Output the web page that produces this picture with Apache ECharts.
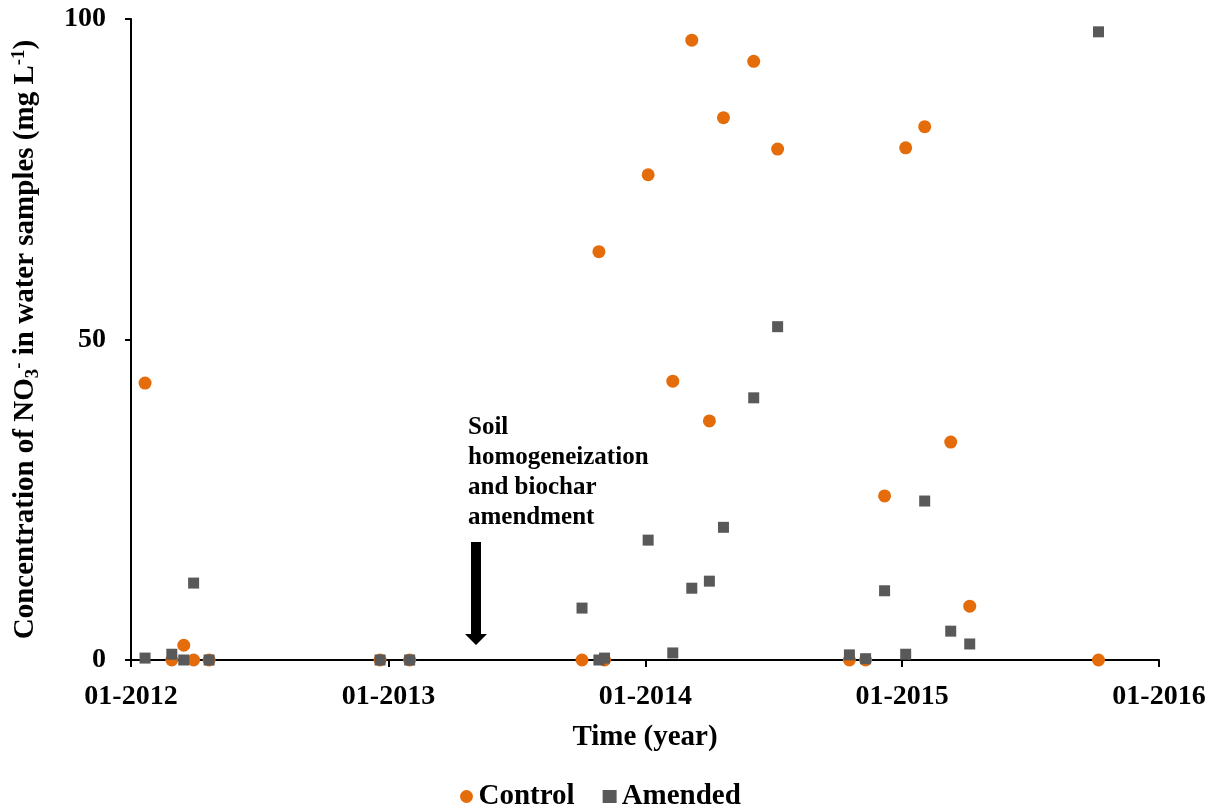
<!DOCTYPE html>
<html>
<head>
<meta charset="utf-8">
<script src="https://cdn.jsdelivr.net/npm/echarts@6/dist/echarts.min.js"></script>
<style>
html,body{margin:0;padding:0;background:#fff;}
#main{width:1220px;height:811px;}
</style>
</head>
<body>
<div id="main"></div>
<script>
var sampleDates = ['2012-01-21','2012-02-28','2012-03-16','2012-03-30','2012-04-21','2012-12-20','2013-01-31',
  '2013-10-03','2013-10-27','2013-11-04','2014-01-05','2014-02-09','2014-03-08','2014-04-02','2014-04-22',
  '2014-06-04','2014-07-08','2014-10-18','2014-11-10','2014-12-07','2015-01-06','2015-02-02','2015-03-11',
  '2015-04-07','2015-10-07'];
var controlValues = [43.2,0,2.3,0,0,0,0,0,63.7,0,75.7,43.5,96.7,37.3,84.6,93.4,79.7,0,0,25.6,79.9,83.2,34.0,8.4,0];
var amendedValues = [0.3,0.9,0,12.0,0,0,0,8.1,0,0.3,18.7,1.1,11.2,12.3,20.7,40.9,52.0,0.8,0.2,10.8,0.9,24.8,4.5,2.5,98.0];
var yTicks = [0, 50, 100];
var seriesNames = ['Control', 'Amended'];
var annotationText = 'Soil\nhomogeneization\nand biochar\namendment';

var FONT = '"Liberation Serif", "Times New Roman", serif';
function pairs(vals){ return sampleDates.map(function(d,i){ return [d, vals[i]]; }); }

var chart = echarts.init(document.getElementById('main'));
var DAY = 24*3600*1000;
chart.setOption({
  animation: false,
  backgroundColor: '#fff',
  grid: { left: 131, right: 61, top: 19, bottom: 151, containLabel: false },
  legend: {
    top: 777, left: 455,
    itemGap: 28, itemWidth: 14, itemHeight: 13,
    textStyle: { fontFamily: FONT, fontWeight: 'bold', fontSize: 29, color: '#000' },
    data: [
      { name: seriesNames[0], icon: 'circle', itemStyle: { color: '#E46C0A' } },
      { name: seriesNames[1], icon: 'rect', itemStyle: { color: '#595959' } }
    ]
  },
  xAxis: {
    type: 'time',
    min: '2012-01-01', max: '2016-01-01',
    minInterval: 365*DAY, maxInterval: 366*DAY,
    name: 'Time (year)', nameLocation: 'middle', nameGap: 63,
    nameTextStyle: { fontFamily: FONT, fontWeight: 'bold', fontSize: 29, color: '#000' },
    axisLine: { lineStyle: { color: '#000', width: 2 } },
    axisTick: { show: true, length: 7, lineStyle: { color: '#000', width: 2 } },
    minorTick: { show: false },
    splitLine: { show: false },
    axisLabel: {
      margin: 23, color: '#000', fontFamily: FONT, fontWeight: 'bold', fontSize: 28,
      formatter: '{MM}-{yyyy}', showMinLabel: true, showMaxLabel: true
    }
  },
  yAxis: {
    type: 'value', min: 0, max: 100, interval: 50,
    name: '{b|Concentration of NO}{sub|3}{sup|-}{b| in water samples (mg L}{sup|-1}{b|)}',
    nameLocation: 'middle', nameRotate: 90, nameGap: 88,
    nameTextStyle: {
      fontFamily: FONT, fontWeight: 'bold', fontSize: 29, color: '#000',
      rich: {
        b: { fontFamily: FONT, fontWeight: 'bold', fontSize: 29, color: '#000', lineHeight: 34 },
        sub: { fontFamily: FONT, fontWeight: 'bold', fontSize: 19, color: '#000', lineHeight: 34, padding: [14, 0, 0, 0] },
        sup: { fontFamily: FONT, fontWeight: 'bold', fontSize: 19, color: '#000', lineHeight: 34, padding: [0, 0, 14, 0] }
      }
    },
    axisLine: { show: true, lineStyle: { color: '#000', width: 2 } },
    axisTick: { show: true, length: 6, lineStyle: { color: '#000', width: 2 } },
    splitLine: { show: false },
    axisLabel: { margin: 25, color: '#000', fontFamily: FONT, fontWeight: 'bold', fontSize: 28,
      customValues: yTicks }
  },
  series: [
    { name: seriesNames[0], type: 'scatter', symbol: 'circle', symbolSize: 13,
      itemStyle: { color: '#E46C0A', opacity: 1 }, data: pairs(controlValues), z: 2 },
    { name: seriesNames[1], type: 'scatter', symbol: 'rect', symbolSize: 11,
      itemStyle: { color: '#595959', opacity: 1 }, data: pairs(amendedValues), z: 3 }
  ],
  graphic: [
    { type: 'text', left: 468, top: 413, z: 10,
      style: { text: annotationText, font: 'bold 25px ' + FONT, fill: '#000', lineHeight: 30 } },
    { type: 'polygon', z: 10,
      shape: { points: [[471,542],[481,542],[481,634],[487,634],[476,645],[465,634],[471,634]] },
      style: { fill: '#000' } }
  ]
});
</script>
</body>
</html>
